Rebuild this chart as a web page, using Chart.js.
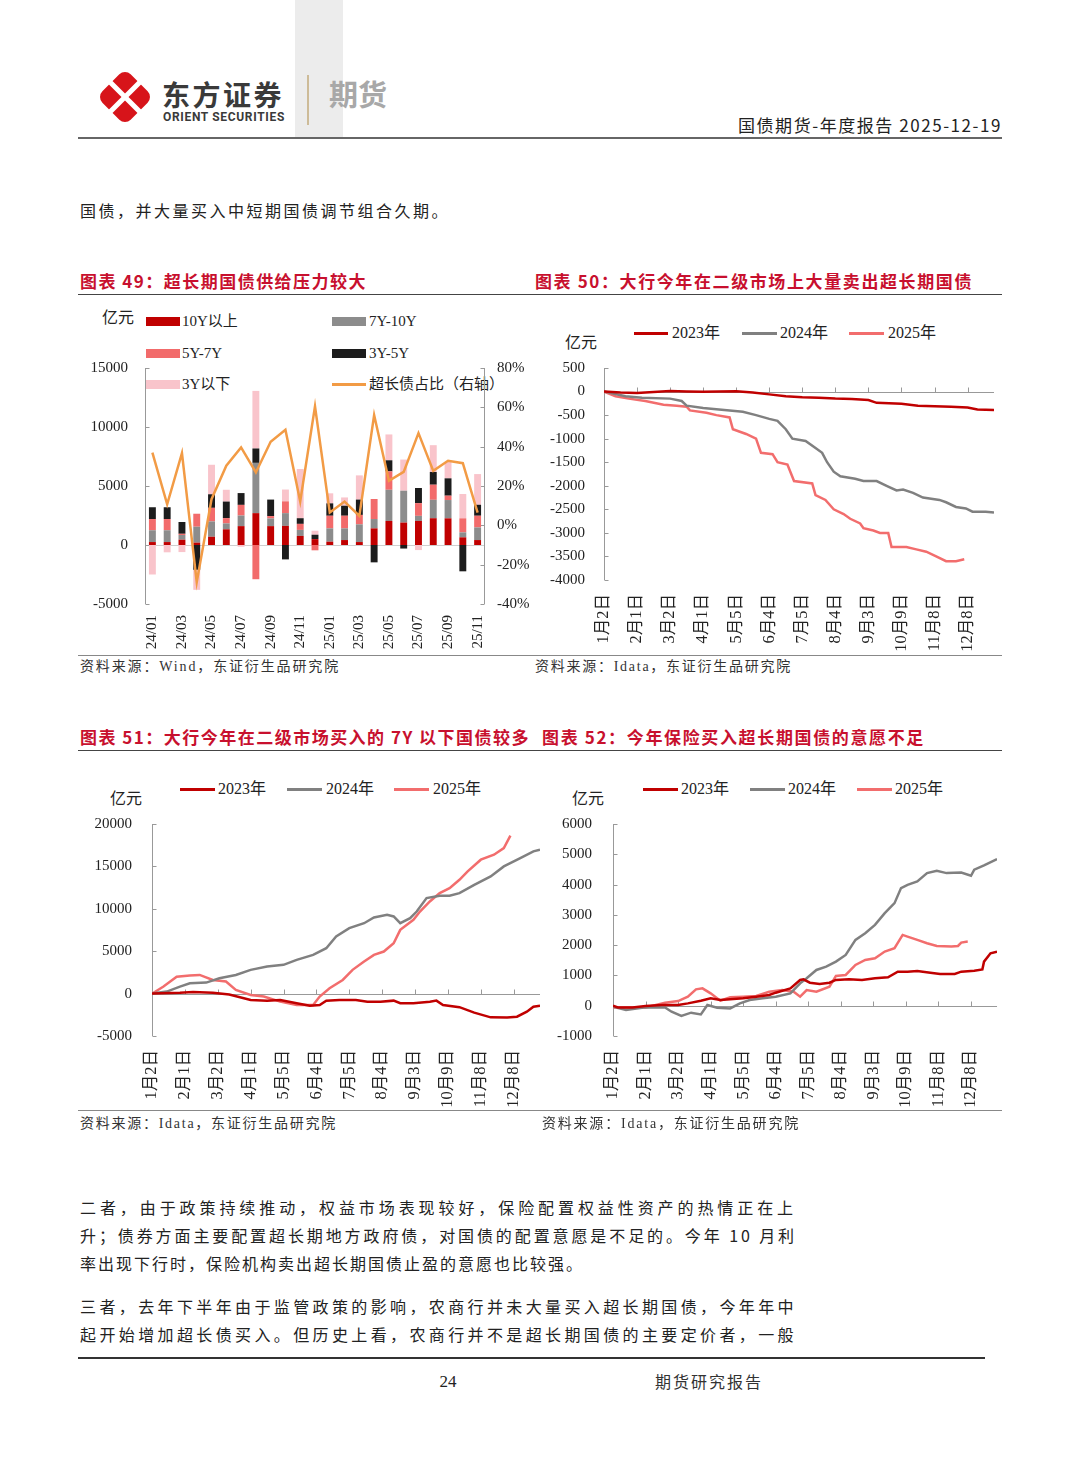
<!DOCTYPE html>
<html>
<head>
<meta charset="utf-8">
<script src="https://cdn.jsdelivr.net/npm/chart.js@4.4.1/dist/chart.umd.min.js"></script>
<style>
body{margin:0;background:#fff;width:1080px;height:1465px;position:relative;overflow:hidden;font-family:"Noto Sans CJK SC",sans-serif;color:#222}
.t{position:absolute;white-space:nowrap;line-height:1;transform:translateY(-50%)}
.box{position:absolute}
.serif{font-family:"Liberation Serif","Noto Sans CJK SC",serif}
.title{color:#c8102e;font-weight:bold;font-size:17px}
.src{font-size:14px;color:#333;font-family:"Liberation Serif","Noto Sans CJK SC",serif}
.leg{font-size:15px;font-family:"Liberation Serif","Noto Sans CJK SC",serif;color:#222}
.body{font-size:16px;color:#222}
canvas{position:absolute}
</style>
</head>
<body>

<!-- header -->
<div class="box" style="left:295px;top:0;width:48px;height:138px;background:#ececec"></div>
<svg class="box" style="left:95px;top:66px" width="62" height="62" viewBox="95 66 62 62">
  <g transform="translate(125,97) rotate(45)">
    <rect x="-20" y="-20" width="40" height="40" rx="8" fill="#d7141a"/>
    <line x1="0" y1="-22" x2="0" y2="22" stroke="#fff" stroke-width="5"/>
    <line x1="-22" y1="0" x2="22" y2="0" stroke="#fff" stroke-width="5"/>
  </g>
</svg>
<div class="t" data-w="122" style="left:162px;top:94px;font-size:28px;font-weight:bold;color:#3a3a3a">东方证券</div>
<div class="t" data-w="122" style="left:163px;top:117px;font-size:12px;font-weight:bold;font-family:Roboto,sans-serif;color:#3a3a3a">ORIENT SECURITIES</div>
<div class="box" style="left:307px;top:75px;width:2px;height:50px;background:#cdbb98"></div>
<div class="t" style="left:329px;top:93px;font-size:29px;font-weight:bold;color:#a8a8a8">期货</div>
<div class="t" data-w="264" style="left:738px;top:124px;font-size:17px;color:#222">国债期货-年度报告 2025-12-19</div>
<div class="box" style="left:78px;top:137px;width:924px;height:2px;background:#666"></div>

<div class="t body" data-w="370" style="left:80px;top:210px">国债，并大量买入中短期国债调节组合久期。</div>

<!-- titles row 1 -->
<div class="t title" data-w="287" style="left:80px;top:280px">图表 49：超长期国债供给压力较大</div>
<div class="t title" data-w="438" style="left:535px;top:280px">图表 50：大行今年在二级市场上大量卖出超长期国债</div>
<div class="box" style="left:78px;top:294px;width:924px;height:1px;background:#444"></div>

<!-- chart 49 legend -->
<div class="t leg" style="left:102px;top:316px;font-size:16px;font-family:'Noto Sans CJK SC'">亿元</div>
<div class="box" style="left:146px;top:317px;width:34px;height:9px;background:#c00000"></div>
<div class="t leg" style="left:182px;top:321px">10Y以上</div>
<div class="box" style="left:332px;top:317px;width:34px;height:9px;background:#8c8c8c"></div>
<div class="t leg" style="left:369px;top:321px">7Y-10Y</div>
<div class="box" style="left:146px;top:349px;width:34px;height:9px;background:#f26b6b"></div>
<div class="t leg" style="left:182px;top:353px">5Y-7Y</div>
<div class="box" style="left:332px;top:349px;width:34px;height:9px;background:#1c1c1c"></div>
<div class="t leg" style="left:369px;top:353px">3Y-5Y</div>
<div class="box" style="left:146px;top:380px;width:34px;height:9px;background:#f9c4cb"></div>
<div class="t leg" style="left:182px;top:384px">3Y以下</div>
<div class="box" style="left:332px;top:383px;width:34px;height:3px;background:#f29b45"></div>
<div class="t leg" style="left:369px;top:384px">超长债占比（右轴）</div>

<!-- chart 50 legend -->
<div class="t leg" style="left:565px;top:341px;font-size:16px;font-family:'Noto Sans CJK SC'">亿元</div>
<div class="box" style="left:634px;top:332px;width:34px;height:3px;background:#c00000"></div>
<div class="t leg" style="left:672px;top:333px;font-size:16px">2023年</div>
<div class="box" style="left:742px;top:332px;width:35px;height:3px;background:#808080"></div>
<div class="t leg" style="left:780px;top:333px;font-size:16px">2024年</div>
<div class="box" style="left:849px;top:332px;width:35px;height:3px;background:#f26d6d"></div>
<div class="t leg" style="left:888px;top:333px;font-size:16px">2025年</div>

<canvas id="c49" width="450" height="355" style="left:80px;top:300px"></canvas>
<canvas id="c50" width="475" height="355" style="left:530px;top:300px"></canvas>

<div class="box" style="left:78px;top:655px;width:924px;height:1px;background:#888"></div>
<div class="t src" data-w="260" style="left:80px;top:667px">资料来源：Wind，东证衍生品研究院</div>
<div class="t src" data-w="257" style="left:535px;top:667px">资料来源：Idata，东证衍生品研究院</div>

<!-- titles row 2 -->
<div class="t title" data-w="450" style="left:80px;top:736px">图表 51：大行今年在二级市场买入的 7Y 以下国债较多</div>
<div class="t title" data-w="383" style="left:542px;top:736px">图表 52：今年保险买入超长期国债的意愿不足</div>
<div class="box" style="left:78px;top:750px;width:924px;height:1px;background:#444"></div>

<!-- chart 51 legend -->
<div class="t leg" style="left:110px;top:797px;font-size:16px;font-family:'Noto Sans CJK SC'">亿元</div>
<div class="box" style="left:180px;top:788px;width:35px;height:3px;background:#c00000"></div>
<div class="t leg" style="left:218px;top:789px;font-size:16px">2023年</div>
<div class="box" style="left:287px;top:788px;width:35px;height:3px;background:#808080"></div>
<div class="t leg" style="left:326px;top:789px;font-size:16px">2024年</div>
<div class="box" style="left:394px;top:788px;width:35px;height:3px;background:#f26d6d"></div>
<div class="t leg" style="left:433px;top:789px;font-size:16px">2025年</div>

<!-- chart 52 legend -->
<div class="t leg" style="left:572px;top:797px;font-size:16px;font-family:'Noto Sans CJK SC'">亿元</div>
<div class="box" style="left:643px;top:788px;width:35px;height:3px;background:#c00000"></div>
<div class="t leg" style="left:681px;top:789px;font-size:16px">2023年</div>
<div class="box" style="left:750px;top:788px;width:35px;height:3px;background:#808080"></div>
<div class="t leg" style="left:788px;top:789px;font-size:16px">2024年</div>
<div class="box" style="left:857px;top:788px;width:35px;height:3px;background:#f26d6d"></div>
<div class="t leg" style="left:895px;top:789px;font-size:16px">2025年</div>

<canvas id="c51" width="470" height="338" style="left:80px;top:770px"></canvas>
<canvas id="c52" width="460" height="338" style="left:545px;top:770px"></canvas>

<div class="box" style="left:78px;top:1110px;width:924px;height:1px;background:#888"></div>
<div class="t src" data-w="257" style="left:80px;top:1124px">资料来源：Idata，东证衍生品研究院</div>
<div class="t src" data-w="258" style="left:542px;top:1124px">资料来源：Idata，东证衍生品研究院</div>

<!-- body text -->
<div class="t body" data-w="717" style="left:80px;top:1207px">二者，由于政策持续推动，权益市场表现较好，保险配置权益性资产的热情正在上</div>
<div class="t body" data-w="717" style="left:80px;top:1235px">升；债券方面主要配置超长期地方政府债，对国债的配置意愿是不足的。今年 10 月利</div>
<div class="t body" style="left:80px;top:1263px;letter-spacing:2px">率出现下行时，保险机构卖出超长期国债止盈的意愿也比较强。</div>
<div class="t body" data-w="717" style="left:80px;top:1306px">三者，去年下半年由于监管政策的影响，农商行并未大量买入超长期国债，今年年中</div>
<div class="t body" data-w="717" style="left:80px;top:1334px">起开始增加超长债买入。但历史上看，农商行并不是超长期国债的主要定价者，一般</div>

<!-- footer -->
<div class="box" style="left:78px;top:1357px;width:907px;height:2px;background:#333"></div>
<div class="t serif" style="left:448px;top:1381px;font-size:17px;transform:translate(-50%,-50%)">24</div>
<div class="t" style="left:655px;top:1381px;font-size:16px;letter-spacing:2px;color:#333">期货研究报告</div>

<script>
// fit text lines to the measured widths of the reference
document.querySelectorAll('[data-w]').forEach(el => {
    const target = Number(el.dataset.w);
    el.style.letterSpacing = '0px';
    const w = el.getBoundingClientRect().width;
    const n = [...el.textContent].length;
    el.style.letterSpacing = ((target - w) / n) + 'px';
});

Chart.defaults.font.family = '"Liberation Serif", "Noto Sans CJK SC", serif';
Chart.defaults.font.size = 15;
Chart.defaults.color = '#222';

/* chart 49: supply by tenor, 亿元 */
const months = ['24/01','24/02','24/03','24/04','24/05','24/06','24/07','24/08','24/09','24/10','24/11','24/12',
                '25/01','25/02','25/03','25/04','25/05','25/06','25/07','25/08','25/09','25/10','25/11'];
const over10Y = [250, 250, 450, 200, 700, 1330, 1600, 2700, 1600, 1620, 770, 500, 280, 420, 250, 1410, 2040, 1900, 2040, 2270, 2260, 650, 420];
const y7to10 = [1000, 1000, 400, 1350, 1300, 500, 900, 4260, 650, 1080, 510, 0, 1130, 990, 1500, 790, 2640, 2700, 430, 1560, 1550, 420, 1070];
const y5to7 = [950, 950, 100, 1100, 1150, 450, 900, -2900, 200, 1000, 510, -450, 1070, 1070, 800, 1700, 1560, 0, 1080, 1280, 370, 1190, 990];
const y3to5 = [1000, 1000, 1000, -2100, 1150, 1400, 1000, 1220, 1400, -1220, 480, 370, 1050, 850, 1300, -1470, 940, -300, 1280, 1080, 1470, -2230, 930];
const under3Y = [-2500, -620, -600, -1700, 2500, 1000, -150, 4880, 0, 1000, 4170, 340, 850, 700, 2050, 0, 2190, 2640, -430, 2270, 1400, 2060, 2600];
const longShare = [37, 10.7, 36.7, -28.9, 13.3, 30.3, 39.6, 26.9, 42.5, 48.6, 12.1, 60.5, 6.5, 12.1, 4.8, 56.1, 22.6, 27.2, 46.9, 27.7, 32.8, 31.6, 6.5];

/* charts 50-52: cumulative net buying, [trading day index, 亿元] */
const dateLabels = ['1月2日','2月1日','3月2日','4月1日','5月5日','6月4日','7月5日','8月4日','9月3日','10月9日','11月8日','12月8日'];

const sell2023 = [[0,0],[10,-20],[20,-30],[30,-10],[40,10],[50,0],[60,-5],[70,0],[80,5],[90,-20],[100,-60],[110,-100],[120,-120],[130,-130],[140,-150],[150,-160],[160,-180],[165,-240],[180,-260],[190,-300],[200,-310],[210,-320],[220,-340],[226,-380],[236,-390]];
const sell2024 = [[0,0],[13,-100],[23,-130],[40,-150],[47,-200],[50,-300],[60,-350],[76,-400],[84,-430],[92,-500],[100,-580],[105,-620],[110,-800],[114,-1000],[122,-1050],[128,-1200],[132,-1300],[135,-1500],[139,-1700],[143,-1800],[152,-1850],[157,-1900],[165,-1900],[171,-2000],[177,-2100],[181,-2080],[187,-2150],[193,-2250],[203,-2300],[207,-2350],[213,-2450],[219,-2480],[223,-2550],[231,-2550],[236,-2570]];
const sell2025 = [[0,0],[7,-100],[15,-150],[25,-200],[36,-280],[44,-300],[50,-320],[52,-400],[62,-450],[68,-500],[76,-550],[78,-800],[86,-900],[92,-1000],[95,-1300],[102,-1330],[105,-1500],[111,-1550],[115,-1900],[126,-1950],[128,-2200],[134,-2300],[139,-2500],[145,-2600],[149,-2700],[155,-2800],[157,-2900],[163,-2950],[167,-3000],[172,-3000],[174,-3300],[183,-3300],[189,-3350],[195,-3400],[201,-3500],[207,-3600],[213,-3600],[218,-3560]];

const buy2023 = [[0,0],[17,100],[25,200],[37,100],[47,-100],[60,-750],[70,-830],[78,-750],[88,-1140],[96,-1420],[102,-1340],[106,-830],[114,-750],[124,-750],[131,-950],[139,-950],[147,-830],[151,-1140],[159,-1140],[169,-950],[173,-830],[177,-1340],[187,-1600],[196,-2240],[206,-2800],[216,-2830],[222,-2720],[228,-2130],[232,-1540],[236,-1420]];
const buy2024 = [[0,0],[9,240],[17,830],[23,1220],[33,1300],[41,1810],[51,2200],[60,2800],[70,3190],[80,3390],[88,3980],[98,4570],[106,5350],[112,6730],[120,7720],[129,8300],[135,8980],[143,9290],[147,9100],[151,8300],[157,8900],[161,9680],[167,11260],[175,11530],[181,11530],[187,11850],[196,12830],[206,13820],[214,15000],[224,15980],[232,16770],[236,16970]];
const buy2025 = [[0,0],[7,830],[15,2000],[23,2130],[29,2200],[37,1610],[45,1420],[51,430],[60,-160],[68,-350],[78,-950],[88,-1340],[98,-1340],[102,-350],[108,630],[116,1610],[122,2800],[129,3780],[135,4570],[141,4960],[147,5940],[151,7520],[159,8700],[163,9680],[169,10870],[175,11850],[181,12440],[187,13420],[192,14410],[200,15790],[208,16380],[214,17160],[218,18620]];

const ins2023 = [[0,0],[3,-55],[12,-55],[20,-10],[30,22],[40,22],[46,77],[54,165],[60,243],[66,188],[72,210],[80,243],[88,298],[96,353],[100,430],[109,574],[115,850],[117,870],[121,760],[127,717],[133,760],[137,850],[145,870],[153,850],[161,905],[169,937],[175,1125],[181,1125],[187,1147],[195,1092],[201,1048],[210,1048],[214,1125],[222,1158],[227,1200],[228,1456],[232,1730],[236,1787]];
const ins2024 = [[0,-33],[8,-143],[20,-55],[32,-55],[36,-200],[42,-340],[48,-230],[54,-290],[58,22],[64,-66],[72,-88],[78,77],[84,188],[92,243],[100,298],[109,408],[115,739],[119,905],[125,1180],[131,1290],[137,1456],[143,1677],[149,2173],[155,2394],[161,2670],[167,3055],[173,3386],[177,3883],[181,3993],[187,4103],[193,4379],[199,4456],[205,4379],[214,4400],[220,4290],[222,4490],[228,4633],[236,4842]];
const ins2025 = [[0,-55],[12,-55],[20,-55],[32,99],[40,154],[46,298],[51,540],[55,574],[60,408],[66,165],[72,276],[80,298],[88,320],[96,463],[104,518],[111,463],[115,298],[119,518],[125,463],[133,629],[137,982],[143,1015],[149,1346],[155,1511],[161,1566],[167,1787],[173,1897],[178,2338],[181,2283],[187,2173],[193,2063],[199,1974],[208,1952],[212,1974],[214,2085],[218,2118]];

const RED = '#c00000', GRAY = '#808080', PINK = '#f26d6d';

// axis lines, inward ticks and the zero line
const axisMarks = {
    id: 'axisMarks',
    beforeDatasetsDraw(chart, args, o) {
        const { ctx, chartArea: a } = chart;
        const ys = chart.scales.y, xs = chart.scales.x;
        const z = Math.round(ys.getPixelForValue(0)) + 0.5;
        ctx.save();
        ctx.lineWidth = 1;
        ctx.strokeStyle = o.zeroColor;
        ctx.beginPath();
        ctx.moveTo(a.left, z);
        ctx.lineTo(a.right, z);
        if (o.xTicks) {
            xs.ticks.forEach(t => {
                if (t.value === 0) return;
                const px = Math.round(xs.getPixelForValue(t.value)) + 0.5;
                ctx.moveTo(px, z);
                ctx.lineTo(px, z - 5);
            });
        }
        ctx.stroke();

        ctx.strokeStyle = o.axisColor;
        ctx.beginPath();
        const lx = Math.round(a.left) + 0.5;
        ctx.moveTo(lx, a.top);
        ctx.lineTo(lx, a.bottom);
        ys.ticks.forEach(t => {
            const py = Math.round(ys.getPixelForValue(t.value)) + 0.5;
            ctx.moveTo(lx, py);
            ctx.lineTo(lx + 4, py);
        });
        if (o.right) {
            const r = chart.scales.y1;
            const rx = Math.round(a.right) - 0.5;
            ctx.moveTo(rx, a.top);
            ctx.lineTo(rx, a.bottom);
            r.ticks.forEach(t => {
                const py = Math.round(r.getPixelForValue(t.value)) + 0.5;
                ctx.moveTo(rx, py);
                ctx.lineTo(rx - 4, py);
            });
        }
        ctx.stroke();
        ctx.restore();
    }
};

function yScale(min, max, step, width, pad, fmt) {
    return {
        min, max,
        ticks: { stepSize: step, padding: pad, callback: fmt || (v => String(v)) },
        grid: { display: false, drawTicks: false },
        border: { display: false },
        afterFit(s) { s.width = width; }
    };
}

function dateX(height) {
    return {
        type: 'linear', min: 0, max: 236,
        grid: { display: false, drawTicks: false },
        border: { display: false },
        ticks: {
            stepSize: 20, autoSkip: false, includeBounds: false,
            minRotation: 90, maxRotation: 90, padding: 14,
            font: { size: 16.5 },
            callback: v => dateLabels[v / 20] ?? ''
        },
        afterFit(s) { s.height = height; }
    };
}

const line = (label, pts, color) => ({
    label,
    data: pts.map(([x, y]) => ({ x, y })),
    borderColor: color,
    borderWidth: 2.5,
    pointRadius: 0,
    fill: false,
    tension: 0
});

const common = {
    responsive: false,
    animation: false,
    devicePixelRatio: 1,
    plugins: { legend: { display: false }, tooltip: { enabled: false } }
};

/* chart 49 */
const bar = (label, data, color) => ({ type: 'bar', label, data, backgroundColor: color, order: 1, barPercentage: 0.52, categoryPercentage: 0.9 });

new Chart(document.getElementById('c49'), {
    data: {
        labels: months,
        datasets: [
            bar('10Y以上', over10Y, '#c00000'),
            bar('7Y-10Y', y7to10, '#8c8c8c'),
            bar('5Y-7Y', y5to7, '#f26b6b'),
            bar('3Y-5Y', y3to5, '#1c1c1c'),
            bar('3Y以下', under3Y, '#f9c4cb'),
            { type: 'line', label: '超长债占比（右轴）', data: longShare, yAxisID: 'y1', borderColor: '#f29b45', borderWidth: 2.5, pointRadius: 0, tension: 0, order: 0 }
        ]
    },
    options: {
        ...common,
        layout: { padding: { top: 68 } },
        scales: {
            x: {
                stacked: true,
                grid: { display: false, drawTicks: false },
                border: { display: false },
                ticks: {
                    autoSkip: false, minRotation: 90, maxRotation: 90, padding: 11,
                    callback(v, i) { return i % 2 === 0 ? this.getLabelForValue(v) : ''; }
                },
                afterFit(s) { s.height = 51; }
            },
            y: { ...yScale(-5000, 15000, 5000, 65, 17), stacked: true },
            y1: { ...yScale(-40, 80, 20, 45, 12, v => v + '%'), position: 'right' }
        },
        plugins: { ...common.plugins, axisMarks: { zeroColor: '#cfcfcf', axisColor: '#999', right: true } }
    },
    plugins: [axisMarks]
});

/* chart 50 */
new Chart(document.getElementById('c50'), {
    type: 'line',
    data: { datasets: [line('2023年', sell2023, RED), line('2024年', sell2024, GRAY), line('2025年', sell2025, PINK)] },
    options: {
        ...common,
        layout: { padding: { top: 68, right: 11 } },
        scales: { x: dateX(75), y: yScale(-4000, 500, 500, 74, 19) },
        plugins: { ...common.plugins, axisMarks: { zeroColor: '#999', axisColor: '#999', xTicks: true } }
    },
    plugins: [axisMarks]
});

/* chart 51 */
new Chart(document.getElementById('c51'), {
    type: 'line',
    data: { datasets: [line('2023年', buy2023, RED), line('2024年', buy2024, GRAY), line('2025年', buy2025, PINK)] },
    options: {
        ...common,
        layout: { padding: { top: 54, right: 10 } },
        scales: { x: dateX(72), y: yScale(-5000, 20000, 5000, 72, 20) },
        plugins: { ...common.plugins, axisMarks: { zeroColor: '#999', axisColor: '#999', xTicks: true } }
    },
    plugins: [axisMarks]
});

/* chart 52 */
new Chart(document.getElementById('c52'), {
    type: 'line',
    data: { datasets: [line('2023年', ins2023, RED), line('2024年', ins2024, GRAY), line('2025年', ins2025, PINK)] },
    options: {
        ...common,
        layout: { padding: { top: 54, right: 3 } },
        scales: { x: dateX(72), y: yScale(-1000, 6000, 1000, 68, 21) },
        plugins: { ...common.plugins, axisMarks: { zeroColor: '#999', axisColor: '#999', xTicks: true } }
    },
    plugins: [axisMarks]
});
</script>
</body>
</html>
